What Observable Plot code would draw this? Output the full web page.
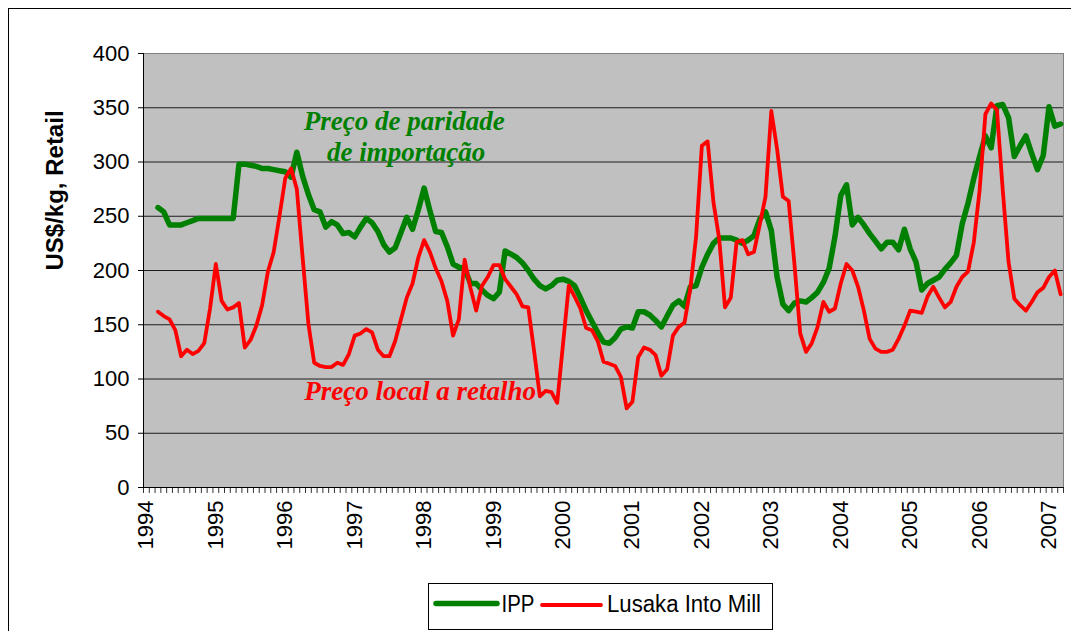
<!DOCTYPE html>
<html>
<head>
<meta charset="utf-8">
<script src="https://cdn.jsdelivr.net/npm/d3@7"></script>
<script src="https://cdn.jsdelivr.net/npm/@observablehq/plot@0.6"></script>
<style>
  body { margin: 0; background: #fff; }
  #wrap { position: relative; width: 1071px; height: 631px; overflow: hidden; background: #fff; font-family: Arial, "Liberation Sans", sans-serif; }
  #frame { position: absolute; left: 8px; top: 8px; width: 1200px; height: 800px; border-left: 1px solid #000; border-top: 1px solid #000; }
  #chart { position: absolute; left: 0; top: 0; }
  #legend { position: absolute; left: 428px; top: 583px; }
</style>
</head>
<body>
<div id="wrap"><div id="frame"></div><div id="chart"></div><div id="legend"></div></div>
<script>
// Monthly categories: Jan 1994 .. Mar 2007 (159 months); data begins Mar 1994
const monthCount = 159;
const yearLabels = ["1994","1995","1996","1997","1998","1999","2000","2001","2002","2003","2004","2005","2006","2007"];
const yTicks = [0, 50, 100, 150, 200, 250, 300, 350, 400];
const gridValues = [50, 100, 150, 200, 250, 300, 350];
const seriesNames = ["IPP", "Lusaka Into Mill"];
const yAxisTitle = ["US$/kg, Retail"];

// IPP (import parity price), US$/kg
const ipp = [
  null, null, 258, 254, 242, 242, 242, 244, 246, 248, 248, 248,
  248, 248, 248, 248, 298, 298, 297, 296, 294, 294, 293, 292,
  291, 286, 309, 287, 270, 256, 254, 240, 245, 242, 234, 235,
  231, 240, 248, 244, 236, 224, 217, 221, 235, 249, 238, 256,
  276, 255, 236, 235, 222, 206, 203, 202, 188, 188, 182, 177,
  174, 180, 218, 215, 212, 207, 200, 192, 186, 183, 186, 191,
  192, 190, 186, 175, 163, 153, 143, 134, 133, 138, 146, 148,
  147, 162, 162, 159, 154, 148, 158, 168, 172, 167, 185, 186,
  203, 215, 225, 230, 230, 230, 228, 225, 228, 232, 247, 254,
  237, 194, 169, 163, 170, 172, 171, 175, 180, 189, 202, 231,
  269, 279, 242, 249, 242, 234, 227, 220, 226, 226, 219, 238,
  220, 208, 182, 188, 191, 194, 201, 207, 214, 243, 262, 285,
  305, 324, 313, 352, 353, 341, 305, 315, 324, 308, 293, 306,
  351, 333, 335
];

// Lusaka into-mill retail price, US$/kg
const lusaka = [
  null, null, 162, 158, 155, 145, 121, 127, 123, 126, 133, 165,
  206, 172, 164, 166, 170, 129, 136, 149, 168, 199, 217, 250,
  285, 294, 275, 212, 151, 115, 112, 111, 111, 115, 113, 123,
  140, 142, 146, 143, 127, 121, 121, 135, 155, 175, 188, 212,
  228, 217, 202, 190, 172, 140, 155, 210, 184, 163, 186, 194,
  205, 205, 192, 185, 178, 167, 166, 126, 84, 89, 88, 78,
  132, 186, 176, 165, 147, 145, 135, 116, 114, 112, 102, 73,
  79, 120, 129, 127, 122, 103, 109, 140, 148, 152, 183, 231,
  315, 319, 263, 229, 166, 175, 226, 228, 215, 217, 242, 268,
  347, 312, 268, 264, 206, 142, 125, 133, 148, 171, 162, 165,
  188, 206, 200, 185, 163, 137, 128, 125, 125, 127, 137, 149,
  163, 162, 161, 176, 185, 175, 166, 171, 185, 194, 199, 226,
  274, 344, 354, 348, 274, 208, 174, 168, 163, 171, 180, 184,
  194, 200, 178
];

// In-chart annotations (month index, value)
const annotations = [
  {text: "Preço de paridade", x: 27.2, y: 337, color: "#008000"},
  {text: "de importação", x: 31.2, y: 309, color: "#008000"},
  {text: "Preço local a retalho", x: 27.3, y: 89, color: "#ff0000"}
];

const ippRows = ipp.map((v, i) => ({i, v}));
const lusakaRows = lusaka.map((v, i) => ({i, v}));
const yearIdx = yearLabels.map((_, k) => k * 12);
const monthBounds = d3.range(monthCount + 1).map(k => k - 0.5);

const chart = Plot.plot({
  width: 1071,
  height: 583,
  marginLeft: 143,
  marginRight: 8,
  marginTop: 53,
  marginBottom: 96,
  style: {fontFamily: "Arial, 'Liberation Sans', sans-serif", background: "transparent", color: "#000"},
  x: {domain: [-0.5, monthCount - 0.5]},
  y: {domain: [0, 400]},
  marks: [
    Plot.frame({fill: "#c0c0c0", stroke: "#808080"}),
    Plot.ruleY(gridValues, {stroke: "#000", strokeOpacity: 0.85}),
    Plot.axisY({ticks: yTicks, tickSize: 5, tickPadding: 9, fontSize: 22, label: null, tickFormat: d => String(d)}),
    Plot.axisX({ticks: yearIdx, tickFormat: d => yearLabels[d / 12], tickRotate: -90, tickSize: 0, tickPadding: 13, fontSize: 22, label: null}),
    Plot.ruleX(monthBounds, {y1: 0, y2: -5.5, stroke: "#000", strokeOpacity: 0.8}),
    Plot.ruleY([0], {stroke: "#000"}),
    Plot.ruleX([-0.5], {stroke: "#000"}),
    Plot.line(ippRows, {x: "i", y: "v", stroke: "#008000", strokeWidth: 5.5, strokeLinejoin: "round", strokeLinecap: "round"}),
    Plot.line(lusakaRows, {x: "i", y: "v", stroke: "#ff0000", strokeWidth: 3.8, strokeLinejoin: "round", strokeLinecap: "round"}),
    Plot.text(annotations, {x: "x", y: "y", text: "text", fill: "color", textAnchor: "start", lineAnchor: "middle",
      fontFamily: "'Liberation Serif', 'Times New Roman', serif", fontStyle: "italic", fontWeight: "bold", fontSize: 27}),
    Plot.text(yAxisTitle, {frameAnchor: "left", rotate: -90, dx: -88, fontSize: 24, fontWeight: "bold", fill: "#000"})
  ]
});
document.getElementById("chart").appendChild(chart);

// Legend
const lg = d3.select("#legend").append("svg").attr("width", 346).attr("height", 48);
lg.append("rect").attr("x", 0.5).attr("y", 0.5).attr("width", 344).attr("height", 46)
  .attr("fill", "#fff").attr("stroke", "#000");
const legendItems = [
  {name: seriesNames[0], color: "#008000", w: 5.5, x1: 8, x2: 69, ty: 20.5, tx: 73.5, tl: 33},
  {name: seriesNames[1], color: "#ff0000", w: 3.8, x1: 114, x2: 173, ty: 22, tx: 179, tl: 154}
];
legendItems.forEach(d => {
  lg.append("line").attr("x1", d.x1).attr("x2", d.x2).attr("y1", d.ty).attr("y2", d.ty)
    .attr("stroke", d.color).attr("stroke-width", d.w).attr("stroke-linecap", "round");
  lg.append("text").attr("x", d.tx).attr("y", 29).attr("font-size", 23)
    .attr("font-family", "Arial, 'Liberation Sans', sans-serif")
    .attr("textLength", d.tl).attr("lengthAdjust", "spacingAndGlyphs").attr("fill", "#000").text(d.name);
});
</script>
</body>
</html>
